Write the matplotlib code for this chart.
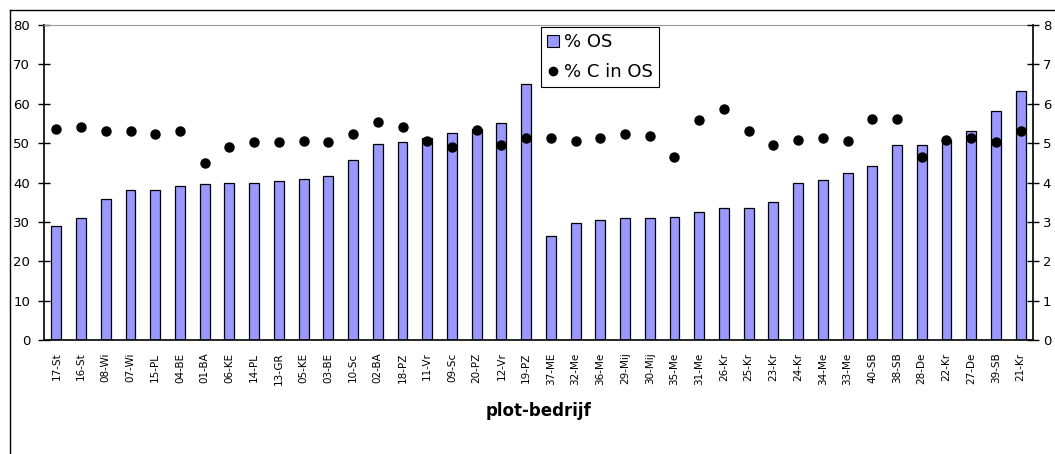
import matplotlib
matplotlib.use("Agg")
import matplotlib.pyplot as plt
from matplotlib.lines import Line2D
import numpy as np

plt.rcParams['font.family'] = ['DejaVu Sans']

categories = ["17-St", "16-St", "08-Wi", "07-Wi", "15-PL", "04-BE", "01-BA", "06-KE", "14-PL", "13-GR",
              "05-KE", "03-BE", "10-Sc", "02-BA", "18-PZ", "11-Vr", "09-Sc", "20-PZ", "12-Vr", "19-PZ",
              "37-ME", "32-Me", "36-Me", "29-Mij", "30-Mij", "35-Me", "31-Me", "26-Kr", "25-Kr", "23-Kr",
              "24-Kr", "34-Me", "33-Me", "40-SB", "38-SB", "28-De", "22-Kr", "27-De", "39-SB", "21-Kr"]
pct_os = [29.0, 31.0, 35.8, 38.0, 38.0, 39.2, 39.5, 39.9, 39.9, 40.3,
          40.9, 41.7, 45.8, 49.9, 50.3, 51.3, 52.6, 53.6, 55.2, 64.9,
          26.4, 29.8, 30.5, 30.9, 30.9, 31.3, 32.4, 33.5, 33.5, 35.0,
          39.9, 40.7, 42.4, 44.3, 49.5, 49.5, 50.9, 53.2, 58.1, 63.3]
pct_c_in_os = [5.36, 5.42, 5.32, 5.32, 5.24, 5.32, 4.49, 4.90, 5.02, 5.02,
               5.05, 5.02, 5.24, 5.54, 5.42, 5.05, 4.90, 5.34, 4.94, 5.13,
               5.13, 5.05, 5.13, 5.24, 5.19, 4.64, 5.58, 5.87, 5.31, 4.94,
               5.08, 5.13, 5.05, 5.61, 5.61, 4.64, 5.08, 5.13, 5.02, 5.31]
left_ticks = [0, 10, 20, 30, 40, 50, 60, 70, 80]
right_ticks = [0, 1, 2, 3, 4, 5, 6, 7, 8]

W, H = 1055, 454
fig = plt.figure(figsize=(W / 100, H / 100), dpi=100)
ax = fig.add_axes([44 / W, 1 - 340 / H, (1033 - 44) / W, (340 - 25) / H])

x = np.arange(len(categories))
ax.bar(x, pct_os, width=0.4, color='#9999FF', edgecolor='black', linewidth=0.9, label='% OS')
ax.set_xlim(-0.5, len(categories) - 0.5)
ax.set_ylim(0, 80)
ax.set_yticks(left_ticks)
ax.set_xticks(x)
ax.set_xticklabels(categories, rotation=90, fontsize=7.5)
ax.tick_params(axis='x', length=0, pad=9)
ax.tick_params(axis='y', direction='inout', length=8, width=1, labelsize=9.5, pad=6)
ax.spines['top'].set_color('#999999')
ax.spines['right'].set_visible(False)
ax.spines['left'].set_linewidth(1.2)
ax.spines['bottom'].set_linewidth(1.2)
ax.set_xlabel('plot-bedrijf', fontsize=12, fontweight='bold', labelpad=12)

ax2 = ax.twinx()
ax2.set_ylim(0, 8)
ax2.set_yticks(right_ticks)
ax2.plot(x, pct_c_in_os, linestyle='none', marker='o', markersize=6.5, color='black', label='% C in OS')
ax2.tick_params(axis='y', direction='inout', length=8, width=1, labelsize=9.5, pad=3)
ax2.spines['top'].set_visible(False)
ax2.spines['left'].set_visible(False)
ax2.spines['bottom'].set_visible(False)
ax2.spines['right'].set_linewidth(1.2)

h1 = Line2D([], [], linestyle='none', marker='s', markersize=8, markerfacecolor='#9999FF', markeredgecolor='black', markeredgewidth=0.8)
h2 = Line2D([], [], linestyle='none', marker='o', markersize=6, color='black')
leg = fig.legend([h1, h2], ['% OS', '% C in OS'], loc='upper left',
                 bbox_to_anchor=(541 / W, 1 - 27 / H), fontsize=13, frameon=True,
                 fancybox=False, edgecolor='black', framealpha=1, handlelength=0.6,
                 handletextpad=0.3, labelspacing=0.65, borderpad=0.35, borderaxespad=0)
leg.get_frame().set_linewidth(0.8)

# outer chart frame (left and top edges)
fig.add_artist(Line2D([10 / W, 10 / W], [0, 1 - 10 / H], color='black', linewidth=1, transform=fig.transFigure))
fig.add_artist(Line2D([10 / W, 1], [1 - 10 / H, 1 - 10 / H], color='black', linewidth=1, transform=fig.transFigure))

fig.savefig('out.png', dpi=100)
